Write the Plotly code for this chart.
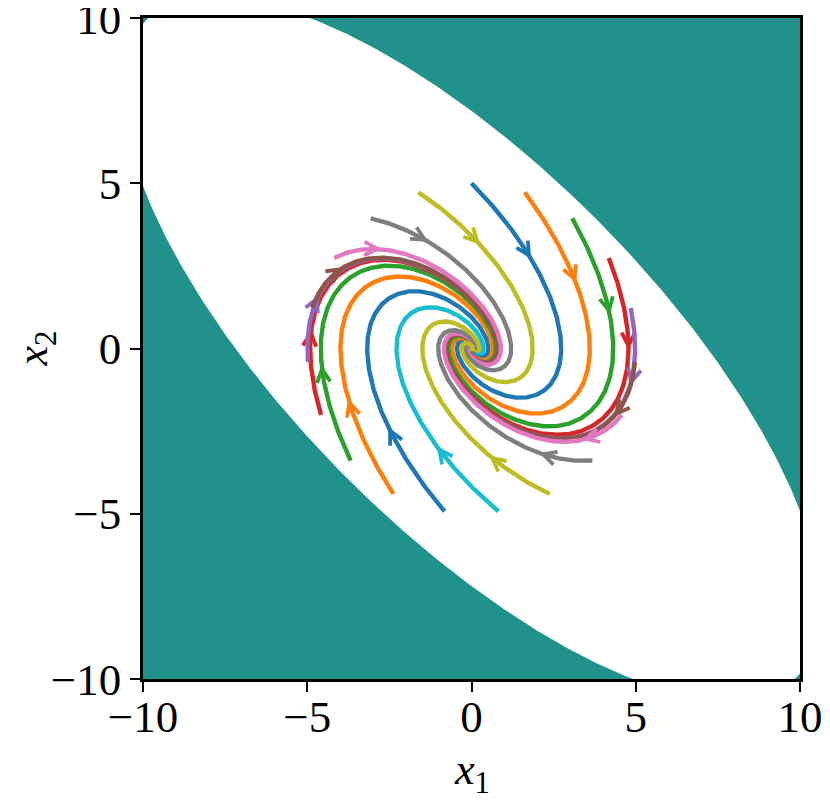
import numpy as np
import plotly.graph_objects as go

# ---- data ----
# linear system x' = A x (read from the spiral shape)
A_row1 = [0.0, 1.0]
A_row2 = [-1.0, -1.0]

# starting points of the trajectories (on a circle of radius ~5)
start_x = [0.00, 1.62, 3.07, 4.18, 4.85, 4.98, 4.58, 3.68, 2.38, 0.82,
           -0.82, -2.38, -3.68, -4.58, -4.98, -4.85, -4.18, -3.07, -1.62]
start_y = [5.00, 4.73, 3.94, 2.74, 1.23, -0.41, -2.01, -3.39, -4.40, -4.93,
           -4.93, -4.40, -3.39, -2.01, -0.41, 1.23, 2.74, 3.94, 4.73]

# white region: x1^2 + b*x1*x2 + x2^2 < c
region_b = 1.475
region_c = 51.7

tick_vals = [-10, -5, 0, 5, 10]
tick_text = ["\u221210", "\u22125", "0", "5", "10"]

tab10 = ["#1f77b4", "#ff7f0e", "#2ca02c", "#d62728", "#9467bd",
         "#8c564b", "#e377c2", "#7f7f7f", "#bcbd22", "#17becf"]
teal = "#21918c"

t_end = 15.0
dt = 0.005
arrow_t = 0.45

A = np.array([A_row1, A_row2])


def f(p):
    return A @ p


def integrate(p0):
    n = int(t_end / dt)
    out = np.empty((n + 1, 2))
    p = np.array(p0, dtype=float)
    out[0] = p
    for i in range(n):
        k1 = f(p)
        k2 = f(p + 0.5 * dt * k1)
        k3 = f(p + 0.5 * dt * k2)
        k4 = f(p + dt * k3)
        p = p + dt / 6 * (k1 + 2 * k2 + 2 * k3 + k4)
        out[i + 1] = p
    return out


fig = go.Figure()

# white ellipse on teal background
th = np.linspace(0, 2 * np.pi, 721)
au = np.sqrt(region_c / (1 + region_b / 2))
av = np.sqrt(region_c / (1 - region_b / 2))
u = au * np.cos(th)
v = av * np.sin(th)
ex = (u + v) / np.sqrt(2)
ey = (u - v) / np.sqrt(2)
fig.add_trace(go.Scatter(x=ex, y=ey, mode="lines", fill="toself",
                         fillcolor="white", line=dict(width=0),
                         hoverinfo="skip", showlegend=False))

arrow_len = 0.45
arrow_ang = np.deg2rad(27)
for k, (x0, y0) in enumerate(zip(start_x, start_y)):
    col = tab10[k % 10]
    tr = integrate([x0, y0])
    fig.add_trace(go.Scatter(x=tr[:, 0], y=tr[:, 1], mode="lines",
                             line=dict(color=col, width=4.4),
                             hoverinfo="skip", showlegend=False))
    i = int(round(arrow_t / dt))
    p = tr[i]
    d = f(p)
    d = d / np.linalg.norm(d)
    wx, wy = [], []
    for s in (1, -1):
        c, sn = np.cos(s * arrow_ang), np.sin(s * arrow_ang)
        back = -np.array([c * d[0] - sn * d[1], sn * d[0] + c * d[1]])
        wx += [p[0] + arrow_len * back[0], p[0], None]
        wy += [p[1] + arrow_len * back[1], p[1], None]
    fig.add_trace(go.Scatter(x=wx, y=wy, mode="lines",
                             line=dict(color=col, width=3.8),
                             hoverinfo="skip", showlegend=False))

font_family = "Liberation Serif"
axis_common = dict(range=[-10.001, 10.001], tickvals=tick_vals, ticktext=tick_text,
                   showgrid=False, zeroline=False, showline=True,
                   linecolor="black", linewidth=2.5, mirror=True,
                   ticks="outside", ticklen=10, tickwidth=2,
                   tickcolor="black", automargin=False,
                   ticklabeloverflow="allow",
                   tickfont=dict(family=font_family, size=45, color="black"),
                   fixedrange=True)

# the page body adds an 8px offset, so the figure is sized to fit inside it
fig.update_layout(
    width=822, height=795, autosize=False,
    margin=dict(l=135, r=30, t=10, b=124),
    plot_bgcolor=teal, paper_bgcolor="white",
    xaxis=dict(axis_common, ticklabelstandoff=-14),
    yaxis=dict(axis_common),
    annotations=[
        dict(text="<i>x</i><sub>1</sub>", xref="paper", yref="paper",
             x=0.5, y=(679 - 772) / 661, xanchor="center", yanchor="middle",
             showarrow=False,
             font=dict(family=font_family, size=44, color="black")),
        dict(text="<i>x</i><sub>2</sub>", xref="paper", yref="paper",
             x=(35 - 143) / 657, y=0.5, xanchor="center", yanchor="middle",
             textangle=-90, showarrow=False,
             font=dict(family=font_family, size=44, color="black")),
    ],
)

fig.write_html("out.html")
